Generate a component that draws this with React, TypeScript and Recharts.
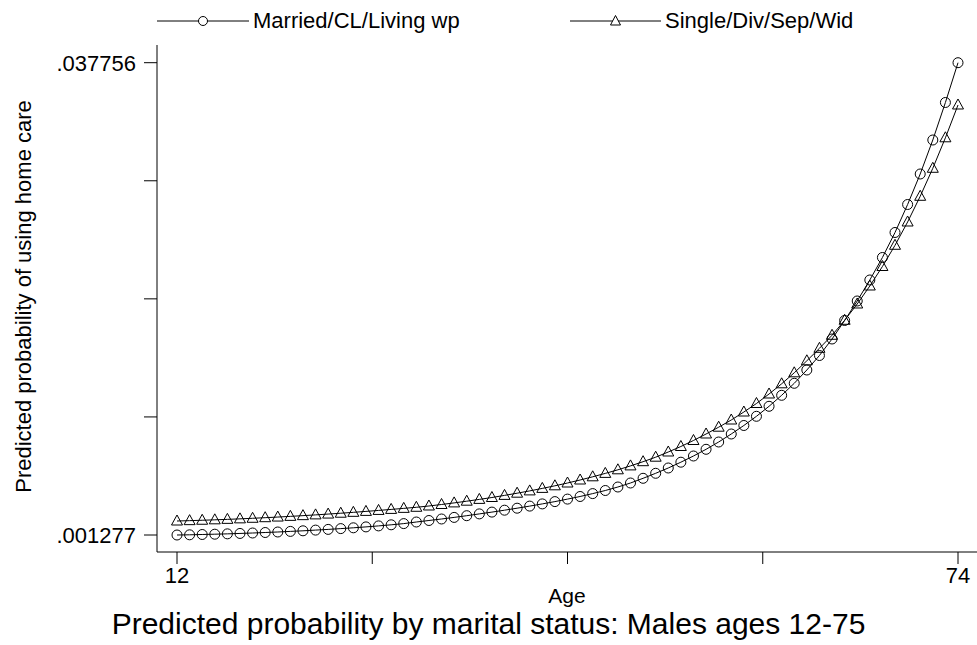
import React from 'react';
import { LineChart, Line, XAxis, YAxis, Label } from 'recharts';

const ages = [
  12, 13, 14, 15, 16, 17, 18, 19, 20, 21, 22, 23, 24, 25, 26, 27, 28, 29, 30, 31, 32,
  33, 34, 35, 36, 37, 38, 39, 40, 41, 42, 43, 44, 45, 46, 47, 48, 49, 50, 51, 52, 53,
  54, 55, 56, 57, 58, 59, 60, 61, 62, 63, 64, 65, 66, 67, 68, 69, 70, 71, 72, 73, 74,
];

const married = [
  0.001277, 0.001292, 0.001316, 0.001339, 0.001366, 0.001397, 0.001431, 0.00147, 0.001509,
  0.001555, 0.001601, 0.001655, 0.00171, 0.001771, 0.001833, 0.001903, 0.00198, 0.002065,
  0.002158, 0.002281, 0.002397, 0.002513, 0.002636, 0.002768, 0.002907, 0.003046, 0.003193,
  0.003347, 0.003509, 0.003679, 0.003857, 0.00405, 0.004251, 0.004475, 0.004714, 0.004984,
  0.005293, 0.005656, 0.006043, 0.006452, 0.0069, 0.007379, 0.007896, 0.00846, 0.009078,
  0.009735, 0.010445, 0.011218, 0.012067, 0.012994, 0.014021, 0.015141, 0.016416, 0.017845,
  0.019351, 0.020973, 0.022711, 0.024642, 0.026804, 0.02916, 0.031786, 0.034683, 0.037756,
];

const single = [
  0.002358, 0.002385, 0.002416, 0.002449, 0.002485, 0.002524, 0.002568, 0.002614, 0.002663,
  0.002716, 0.002772, 0.002831, 0.002894, 0.002959, 0.003028, 0.0031, 0.003175, 0.003253,
  0.003334, 0.003417, 0.003517, 0.003633, 0.003756, 0.003888, 0.004027, 0.004173, 0.004336,
  0.004506, 0.004683, 0.004876, 0.005077, 0.005293, 0.005525, 0.005772, 0.006035, 0.006313,
  0.006614, 0.006939, 0.007286, 0.007688, 0.008113, 0.008576, 0.009078, 0.009603, 0.010159,
  0.010777, 0.011434, 0.012168, 0.012955, 0.013805, 0.014732, 0.015697, 0.016702, 0.01786,
  0.019119, 0.020509, 0.022015, 0.023653, 0.025453, 0.027438, 0.0296, 0.031956, 0.034489,
];

const xTicks = [12, 27.5, 43, 58.5, 74];
const yTicks = [0.001277, 0.01039675, 0.0195165, 0.02863625, 0.037756];
const yLabels = ['.001277', '', '', '', '.037756'];

const data = ages.map((age, i) => ({ age, married: married[i], single: single[i] }));

const font = '"Liberation Sans", Arial, Helvetica, sans-serif';
const ink = '#000';

const CircleDot = (props: any) => {
  const { cx, cy, index } = props;
  if (cx == null || cy == null) return null;
  return <circle key={`c-${index}`} cx={cx} cy={cy} r={5} fill="none" stroke={ink} strokeWidth={1} />;
};

const TriangleDot = (props: any) => {
  const { cx, cy, index } = props;
  if (cx == null || cy == null) return null;
  const pts = `${cx},${cy - 6} ${cx - 5.5},${cy + 4} ${cx + 5.5},${cy + 4}`;
  return <polygon key={`t-${index}`} points={pts} fill="none" stroke={ink} strokeWidth={1} />;
};

function LegendBar() {
  return (
    <svg width={977} height={40} style={{ position: 'absolute', left: 0, top: 0 }}>
      <g fontFamily={font} fontSize={22} fill={ink}>
        <line x1={157} y1={21} x2={249} y2={21} stroke={ink} strokeWidth={1} />
        <circle cx={203} cy={21} r={4.5} fill="#fff" stroke={ink} strokeWidth={1} />
        <text x={253} y={28}>Married/CL/Living wp</text>
        <line x1={570} y1={21} x2={661} y2={21} stroke={ink} strokeWidth={1} />
        <polygon points="615.5,15.5 610.5,25 620.5,25" fill="#fff" stroke={ink} strokeWidth={1} />
        <text x={665} y={28}>Single/Div/Sep/Wid</text>
      </g>
    </svg>
  );
}

export default function App() {
  return (
    <div style={{ position: 'absolute', left: 0, top: 0, width: 977, height: 645, background: '#fff', fontFamily: font }}>
      <LineChart width={977} height={645} data={data} margin={{ top: 45, right: 0, bottom: 0, left: 0 }}>
        <XAxis
          dataKey="age"
          type="number"
          domain={[10.4123, 75.508]}
          ticks={xTicks}
          tickFormatter={(v: number) => (v === 12 || v === 74 ? String(v) : '')}
          allowDataOverflow
          height={93}
          tickSize={12}
          tickMargin={3}
          stroke={ink}
          tick={{ fontSize: 22, fill: ink, fontFamily: font }}
        >
          <Label value="Age" position="insideTop" offset={36} fontSize={21} fill={ink} fontFamily={font} />
        </XAxis>
        <YAxis
          type="number"
          domain={[-0.000036, 0.039123]}
          ticks={yTicks}
          tickFormatter={(v: number, i: number) => yLabels[i]}
          allowDataOverflow
          width={157}
          tickSize={13}
          tickMargin={8}
          stroke={ink}
          tick={{ fontSize: 22, fill: ink, fontFamily: font }}
        >
          <Label
            content={({ viewBox }: any) => {
              const x = viewBox.x + 31;
              const y = viewBox.y + viewBox.height / 2 - 2;
              return (
                <text x={x} y={y} transform={`rotate(-90 ${x} ${y})`} textAnchor="middle" fontSize={22} fill={ink} fontFamily={font}>
                  Predicted probability of using home care
                </text>
              );
            }}
          />
        </YAxis>
        <Line dataKey="married" stroke={ink} strokeWidth={1} dot={CircleDot} activeDot={false} isAnimationActive={false} />
        <Line dataKey="single" stroke={ink} strokeWidth={1} dot={TriangleDot} activeDot={false} isAnimationActive={false} />
      </LineChart>
      <LegendBar />
      <div style={{ position: 'absolute', left: 0, top: 607, width: 977, textAlign: 'center', fontSize: 30, color: ink, lineHeight: '34px' }}>
        Predicted probability by marital status: Males ages 12-75
      </div>
    </div>
  );
}
